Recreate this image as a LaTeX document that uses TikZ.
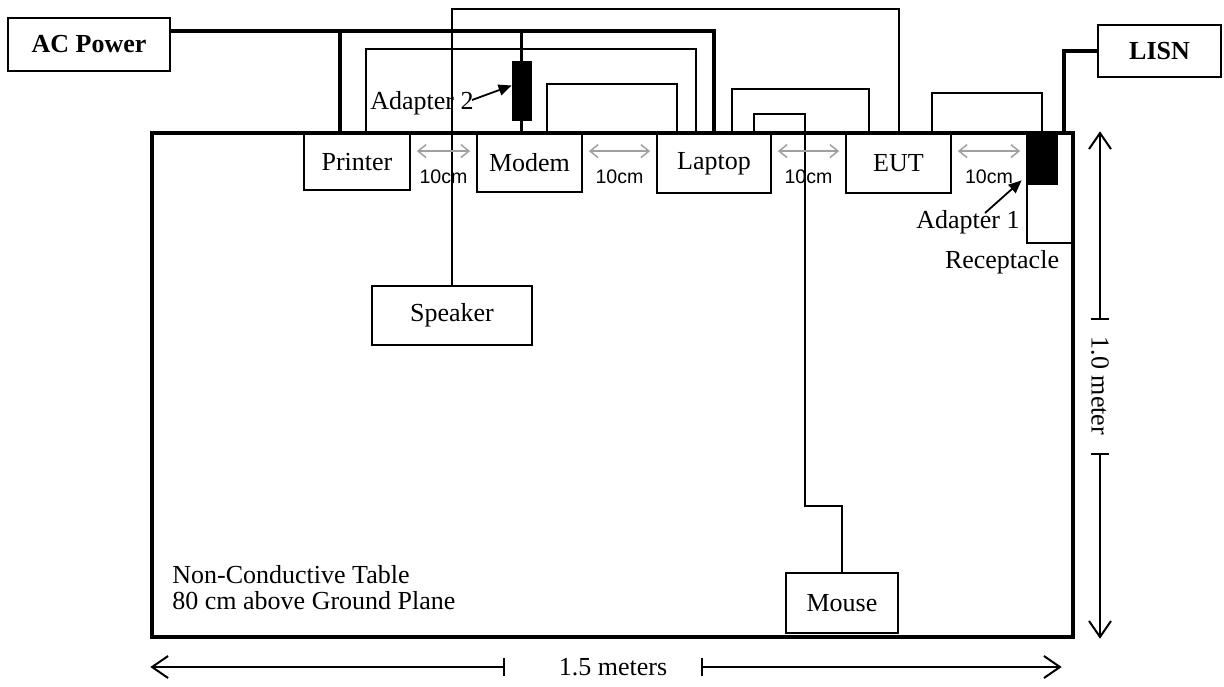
\documentclass[tikz,border=0pt]{standalone}
\usepackage{fontspec}
\setmainfont{Liberation Serif}
\newfontfamily\gapfont{Liberation Sans}
\usetikzlibrary{calc,arrows.meta,positioning}
\definecolor{gapGray}{RGB}{160,160,160}
\tikzset{
  device/.style={draw,line width=0.9pt,inner sep=0pt,font=\fontsize{13}{15}\selectfont},
  cable/.style={line width=1pt},
  power/.style={line width=1.7pt},
  adapter/.style={draw,fill=black,inner sep=0pt},
  gaparrow/.style={gapGray,line width=0.75pt,{Straight Barb[length=4pt,width=6.5pt]}-{Straight Barb[length=4pt,width=6.5pt]}},
  gaplabel/.style={font=\gapfont\fontsize{9.8}{11}\selectfont,text=black},
  pointer/.style={line width=0.9pt,-{Triangle[length=6.5pt,width=5.5pt]}},
  dimline/.style={line width=1pt,{Bar[width=9pt]}-{Straight Barb[length=8pt,width=11pt]}},
  lbl/.style={font=\fontsize{13}{15}\selectfont,inner sep=1pt},
}
\begin{document}
\begin{tikzpicture}[x=0.5pt,y=-0.5pt]
\useasboundingbox (0,0) rectangle (1224,686);
% table
\node[draw,line width=1.7pt,minimum width=460.5pt,minimum height=252pt,inner sep=0pt] (tbl) at (612.5,385) {};
\node[lbl,anchor=west,align=left,font=\fontsize{13}{13}\selectfont] (tbllbl) at (170,588) {Non-Conductive Table\\80 cm above Ground Plane};

% devices
\node[device,minimum width=53pt,minimum height=28pt] (prn) at (357,162) {Printer};
\node[device,minimum width=52.5pt,minimum height=29pt] (mdm) at (529.5,163) {Modem};
\node[device,minimum width=57pt,minimum height=29.5pt] (lap) at (714,163.5) {Laptop};
\node[device,minimum width=52.5pt,minimum height=29.5pt] (eut) at (898.5,163.5) {EUT};
\node[device,minimum width=22.5pt,minimum height=54.5pt] (rcp) at (1049.5,188.5) {};
\node[adapter,minimum width=15pt,minimum height=25pt] (ad1) at (1042,159) {};
\node[adapter,minimum width=9.5pt,minimum height=29.5pt] (ad2) at (521.5,90.5) {};
\node[device,minimum width=80pt,minimum height=29.5pt] (spk) at (452,315.5) {Speaker};
\node[device,minimum width=56pt,minimum height=30pt] (mse) at (842,603) {Mouse};
\node[device,font=\bfseries\fontsize{13}{15}\selectfont,minimum width=81pt,minimum height=26.5pt] (acp) at (89,44.5) {AC Power};
\node[device,font=\bfseries\fontsize{13}{15}\selectfont,minimum width=61.5pt,minimum height=26pt] (lisn) at (1159.5,51) {LISN};

% power
\coordinate (acline) at ($(acp.east)+(0,-13.5)$);
\draw[power] (acline) -| (lap.north);
\draw[power] ($(prn.north)+(-17,0)$) |- (acline);
\draw[power] (ad2.north) |- (acline);
\draw[power] (ad2.south) -- (ad2.south |- mdm.north);
\draw[power] (lisn.west) -| ($(ad1.north)+(22,0)$);

% cables
\draw[cable] ($(prn.north)+(9,0)$) -- ++(0,-84) -| ($(lap.north)+(-18,0)$);
\draw[cable] ($(mdm.north)+(17.5,0)$) -- ++(0,-49) -| ($(lap.north)+(-37,0)$);
\draw[cable] (spk.north) -- ++(0,-276) -| (eut.north);
\draw[cable] ($(lap.north)+(18,0)$) -- ++(0,-44) -| ($(eut.north)+(-29.5,0)$);
\draw[cable] ($(lap.north)+(40,0)$) -- ++(0,-19) -- ++(51,0) -- ++(0,392) -| (mse.north);
\draw[cable] ($(eut.north)+(33.5,0)$) -- ++(0,-40) -| (ad1.north);

% 10cm spacing
\foreach \a/\b in {prn/mdm,mdm/lap,lap/eut,eut/rcp}
  \draw[gaparrow] ($(\a.north east)+(6,18)$) -- node[gaplabel,yshift=-13pt]{10cm} ($(\b.north west)+(-6,18)$);

% labels
\node[lbl,anchor=west] (ad2lbl) at (368,103) {Adapter 2};
\draw[pointer] ($(ad2lbl.east)+(-4,-3)$) -- ($(ad2.west)+(0,-5)$);
\node[lbl] (ad1lbl) at (968,222) {Adapter 1};
\draw[pointer] ($(ad1lbl.center)+(17,-9)$) -- ($(ad1.south west)+(-5,-4)$);
\node[lbl] (rcplbl) at (1002,262) {Receptacle};

% dimensions
\node[lbl,rotate=-90,inner xsep=8.5pt] (vdim) at (1100,386) {1.0 meter};
\draw[dimline] (vdim.west) -- (vdim.west |- tbl.north);
\draw[dimline] (vdim.east) -- (vdim.east |- tbl.south);
\node[lbl] (hdim) at (613,667) {1.5 meters};
\coordinate (hbarL) at (505,667);
\coordinate (hbarR) at (701,667);
\draw[dimline] (hbarL) -- (hbarL -| tbl.west);
\draw[dimline] (hbarR) -- ($(hbarR -| tbl.east)+(-13,0)$);
\end{tikzpicture}
\end{document}
